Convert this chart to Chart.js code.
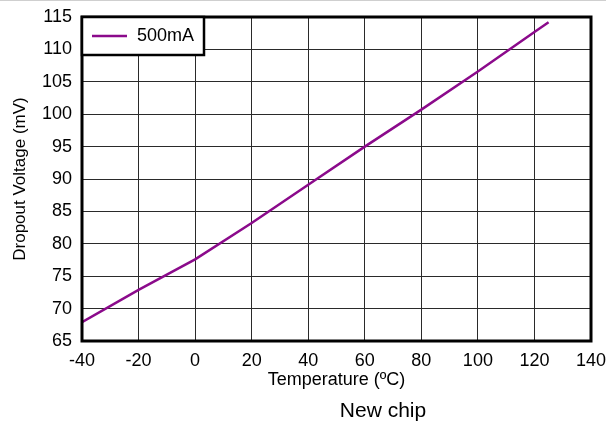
<!DOCTYPE html>
<html><head><meta charset="utf-8">
<script src="https://cdn.jsdelivr.net/npm/chart.js@4.4.0/dist/chart.umd.min.js"></script>
<style>
html,body{margin:0;padding:0;background:#fff;}
#wrap{position:relative;width:606px;height:424px;overflow:hidden;}
#topline{position:absolute;left:0;top:0;width:606px;height:1px;background:#cfcfcf;}
#note{position:absolute;left:283px;top:398px;width:200px;text-align:center;font-family:"Liberation Sans",Arial,sans-serif;font-size:21px;line-height:24px;color:#000;}
canvas{display:block;}
</style></head>
<body>
<div id="wrap">
<canvas id="c" width="606" height="424"></canvas>
<div id="topline"></div>
<div id="note">New chip</div>
</div>
<script>
const seriesLabel = "500mA";
const temperatures = [-40, -20, 0, 20, 40, 60, 80, 100, 120, 125];
const dropoutVoltage = [67.9, 72.9, 77.6, 83.2, 89.1, 95.0, 100.7, 106.6, 112.7, 114.2];
const xTicks = [-40, -20, 0, 20, 40, 60, 80, 100, 120, 140];
const yTicks = [65, 70, 75, 80, 85, 90, 95, 100, 105, 110, 115];
const xTitle = "Temperature (\u00baC)";
const yTitle = "Dropout Voltage (mV)";

const FONT = '"Liberation Sans", Arial, sans-serif';

const framePlugin = {
  id: 'frame',
  afterDatasetsDraw(chart) {
    const ctx = chart.ctx, a = chart.chartArea;
    ctx.save();
    ctx.strokeStyle = '#000';
    ctx.lineWidth = 3;
    ctx.strokeRect(a.left, a.top, a.right - a.left, a.bottom - a.top);
    const ds = chart.data.datasets[0];
    const bx = a.left, by = a.top, bw = 122, bh = 38;
    ctx.fillStyle = '#fff';
    ctx.fillRect(bx, by, bw, bh);
    ctx.lineWidth = 2.5;
    ctx.strokeStyle = '#000';
    ctx.strokeRect(bx, by, bw, bh);
    ctx.strokeStyle = ds.borderColor;
    ctx.lineWidth = 2.5;
    ctx.beginPath();
    ctx.moveTo(bx + 10, by + 19);
    ctx.lineTo(bx + 45, by + 19);
    ctx.stroke();
    ctx.fillStyle = '#000';
    ctx.font = '18px ' + FONT;
    ctx.textBaseline = 'middle';
    ctx.textAlign = 'left';
    ctx.fillText(ds.label, bx + 55, by + 19.5);
    ctx.restore();
  }
};

new Chart(document.getElementById('c'), {
  type: 'line',
  data: {
    datasets: [{
      label: seriesLabel,
      data: temperatures.map((t, i) => ({ x: t, y: dropoutVoltage[i] })),
      borderColor: '#8b0a8b',
      borderWidth: 2.5,
      pointRadius: 0,
      tension: 0,
      fill: false
    }]
  },
  options: {
    responsive: false,
    animation: false,
    devicePixelRatio: 1,
    layout: { padding: { left: 0, right: 15, top: 17, bottom: 33 } },
    plugins: { legend: { display: false }, tooltip: { enabled: false } },
    scales: {
      x: {
        type: 'linear', min: -40, max: 140,
        afterBuildTicks(s) { s.ticks = xTicks.map(v => ({ value: v })); },
        afterFit(s) { s.height = 50; s.paddingLeft = 0; s.paddingRight = 0; },
        grid: { color: '#2a2a2a', lineWidth: 1, drawTicks: false },
        border: { display: false },
        ticks: { color: '#000', font: { family: FONT, size: 18 }, padding: 9, maxRotation: 0, autoSkip: false },
        title: { display: true, text: xTitle, color: '#000', font: { family: FONT, size: 18 }, padding: { top: 0, bottom: 0 } }
      },
      y: {
        type: 'linear', min: 65, max: 115,
        afterBuildTicks(s) { s.ticks = yTicks.map(v => ({ value: v })); },
        afterFit(s) { s.width = 82; s.paddingTop = 0; s.paddingBottom = 0; },
        grid: { color: '#2a2a2a', lineWidth: 1, drawTicks: false },
        border: { display: false },
        ticks: { color: '#000', font: { family: FONT, size: 18 }, padding: 10, autoSkip: false },
        title: { display: true, text: yTitle, color: '#000', font: { family: FONT, size: 17 }, padding: { top: 10, bottom: 0 } }
      }
    }
  },
  plugins: [framePlugin]
});
</script>
</body></html>
